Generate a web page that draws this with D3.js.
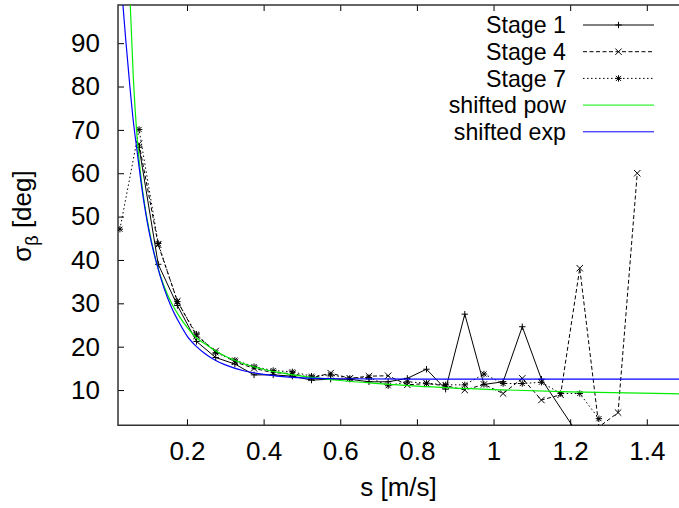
<!DOCTYPE html>
<html>
<head>
<meta charset="utf-8">
<script src="https://cdn.jsdelivr.net/npm/d3@7"></script>
<style>
  body { margin: 0; background: #fff; }
  svg { display: block; }
  text { font-family: "Liberation Sans", Arial, sans-serif; fill: #000; }
</style>
</head>
<body>
<div id="chart"></div>
<script>
// measured speeds (m/s), one bin every 0.05
const speeds = [0.025, 0.075, 0.125, 0.175, 0.225, 0.275, 0.325, 0.375, 0.425, 0.475,
  0.525, 0.575, 0.625, 0.675, 0.725, 0.775, 0.825, 0.875, 0.925, 0.975,
  1.025, 1.075, 1.125, 1.175, 1.225, 1.275, 1.325, 1.375];

// sigma beta per stage (null = no point)
const stage1 = [null, 66, 39, 29.5, 21.2, 17.5, 16, 13.5, 13.5, 13.2,
  12.3, 12.5, 12.5, 11.9, 11.9, 12.7, 14.8, 10.2, 27.5, 11.3,
  11.9, 24.6, 12.5, null, -0.8, null, null, null];
const stage4 = [null, 66.8, 43.5, 30.5, 22.5, 19, 16.5, 15, 14, 13.8,
  12.8, 13.9, 12.7, 13.2, 13.3, 11.2, 11.5, 11, 10, 11.3,
  9.2, 12.7, 7.7, 8.9, 38.1, 1.5, 4.8, 60];
const stage7 = [47.1, 70.1, 43.8, 30.4, 22.9, 18.6, 16.9, 15.4, 14.5, 14.2,
  13.2, 13.5, 12.7, 12.9, 11, 11.9, 11.6, 11.2, 11.2, 13.7,
  11.5, 11.5, 11.8, 9.2, 9.2, 3.4, null, null];

// fitted curves
const powX = [0.05, 0.06, 0.07, 0.08, 0.09, 0.10, 0.12, 0.14, 0.16, 0.18, 0.20, 0.225, 0.25,
  0.275, 0.30, 0.35, 0.40, 0.45, 0.50, 0.60, 0.70, 0.80, 1.00, 1.20, 1.50];
const powY = [103, 82, 68, 59, 52.5, 47.5, 39.5, 34, 30, 27, 24.5, 22, 20.5,
  19, 17.8, 16, 14.8, 13.9, 13.2, 12.2, 11.5, 10.9, 10.1, 9.6, 9.1];
const expX = [0.03, 0.04, 0.05, 0.06, 0.07, 0.08, 0.09, 0.10, 0.12, 0.14, 0.16, 0.18, 0.20,
  0.225, 0.25, 0.275, 0.30, 0.35, 0.40, 0.45, 0.50, 0.60, 0.80, 1.50];
const expY = [102, 91, 81, 72, 65, 58, 52, 47, 39.5, 33.5, 29, 25.5, 22.5,
  20, 18.2, 16.8, 15.8, 14.4, 13.6, 13.1, 12.8, 12.6, 12.5, 12.5];

const xTicks = [0.2, 0.4, 0.6, 0.8, 1, 1.2, 1.4];
const yTicks = [10, 20, 30, 40, 50, 60, 70, 80, 90];
const legendLabels = ["Stage 1", "Stage 4", "Stage 7", "shifted pow", "shifted exp"];

const width = 679, height = 508;
const plotLeft = 118, plotTop = 5, plotBottom = 425.3, plotRight = 679;
const fontSize = 26;

const svg = d3.select("#chart").append("svg")
  .attr("width", width)
  .attr("height", height);

const x = d3.scaleLinear().domain([0.02, 1.484]).range([plotLeft, plotRight]);
const y = d3.scaleLinear().domain([1.87, 98.8]).range([plotBottom, plotTop]);

svg.append("clipPath").attr("id", "clip")
  .append("rect")
  .attr("x", plotLeft).attr("y", plotTop)
  .attr("width", plotRight - plotLeft).attr("height", plotBottom - plotTop);

// axes with inward ticks
const xAxis = svg.append("g")
  .attr("transform", `translate(0,${plotBottom})`)
  .call(d3.axisBottom(x).tickValues(xTicks).tickFormat(d3.format("")).tickSizeInner(-6).tickSizeOuter(0).tickPadding(16));
const xAxisTop = svg.append("g")
  .attr("transform", `translate(0,${plotTop})`)
  .call(d3.axisTop(x).tickValues(xTicks).tickFormat("").tickSizeInner(-6).tickSizeOuter(0));
const yAxis = svg.append("g")
  .attr("transform", `translate(${plotLeft},0)`)
  .call(d3.axisLeft(y).tickValues(yTicks).tickSizeInner(-6).tickSizeOuter(0).tickPadding(18));

[xAxis, xAxisTop, yAxis].forEach(g => {
  g.select(".domain").remove();
  g.selectAll(".tick line").attr("stroke", "#000").attr("stroke-width", 1);
  g.selectAll("text").attr("font-size", fontSize).attr("fill", "#000")
    .style("font-family", '"Liberation Sans", Arial, sans-serif');
});

// border
svg.append("path")
  .attr("d", `M${plotRight + 2},${plotTop}H${plotLeft}V${plotBottom}H${plotRight + 2}`)
  .attr("fill", "none")
  .attr("stroke", "#333")
  .attr("stroke-width", 1.5);

// axis titles
svg.append("text")
  .attr("x", (plotLeft + plotRight) / 2)
  .attr("y", 496)
  .attr("text-anchor", "middle")
  .attr("font-size", fontSize)
  .text("s [m/s]");

const yTitle = svg.append("text")
  .attr("transform", "translate(31,216) rotate(-90)")
  .attr("text-anchor", "middle")
  .attr("font-size", fontSize);
yTitle.append("tspan").text("σ");
yTitle.append("tspan").attr("font-size", 18).attr("dy", 7).text("β");
yTitle.append("tspan").attr("dy", -7).text(" [deg]");

// series
const plot = svg.append("g").attr("clip-path", "url(#clip)");

const stages = [
  { name: legendLabels[0], values: stage1, dash: null, marker: "plus" },
  { name: legendLabels[1], values: stage4, dash: "4,2.5", marker: "cross" },
  { name: legendLabels[2], values: stage7, dash: "1.5,2.5", marker: "star" }
];

const line = d3.line().x(d => x(d[0])).y(d => y(d[1]));

function markerPath(type, cx, cy) {
  const r = 3.2, p = d3.path();
  if (type === "plus" || type === "star") {
    p.moveTo(cx - r, cy); p.lineTo(cx + r, cy);
    p.moveTo(cx, cy - r); p.lineTo(cx, cy + r);
  }
  if (type === "cross" || type === "star") {
    const q = type === "star" ? r * 0.8 : r;
    p.moveTo(cx - q, cy - q); p.lineTo(cx + q, cy + q);
    p.moveTo(cx - q, cy + q); p.lineTo(cx + q, cy - q);
  }
  return p.toString();
}

stages.forEach(s => {
  const pts = speeds.map((v, i) => [v, s.values[i]]).filter(d => d[1] !== null);
  plot.append("path")
    .datum(pts)
    .attr("d", line)
    .attr("fill", "none")
    .attr("stroke", "#000")
    .attr("stroke-width", 1)
    .attr("stroke-dasharray", s.dash);
  plot.selectAll(null)
    .data(pts.filter(d => d[1] >= y.domain()[0]))
    .enter().append("path")
    .attr("d", d => markerPath(s.marker, x(d[0]), y(d[1])))
    .attr("stroke", "#000")
    .attr("stroke-width", 1)
    .attr("fill", "none");
});

const fitLine = d3.line().curve(d3.curveMonotoneX).x(d => x(d[0])).y(d => y(d[1]));
const fits = [
  { name: legendLabels[3], xs: powX, ys: powY, color: "#00ee00" },
  { name: legendLabels[4], xs: expX, ys: expY, color: "#0000ff" }
];
fits.forEach(f => {
  plot.append("path")
    .datum(f.xs.map((v, i) => [v, f.ys[i]]))
    .attr("d", fitLine)
    .attr("fill", "none")
    .attr("stroke", f.color)
    .attr("stroke-width", 1.2);
});

// legend (slightly smaller text so rows don't collide)
const legend = svg.append("g");
const entries = stages.map(s => ({ name: s.name, color: "#000", dash: s.dash, marker: s.marker }))
  .concat(fits.map(f => ({ name: f.name, color: f.color, dash: null, marker: null })));
entries.forEach((e, i) => {
  const cy = 25 + i * 26.7;
  legend.append("text")
    .attr("x", 566).attr("y", cy)
    .attr("dy", "0.35em")
    .attr("text-anchor", "end")
    .attr("font-size", 23.2)
    .text(e.name);
  legend.append("line")
    .attr("x1", 583).attr("x2", 654)
    .attr("y1", cy).attr("y2", cy)
    .attr("stroke", e.color)
    .attr("stroke-width", 1)
    .attr("stroke-dasharray", e.dash);
  if (e.marker) {
    legend.append("path")
      .attr("d", markerPath(e.marker, 618.5, cy))
      .attr("stroke", "#000")
      .attr("fill", "none");
  }
});
</script>
</body>
</html>
